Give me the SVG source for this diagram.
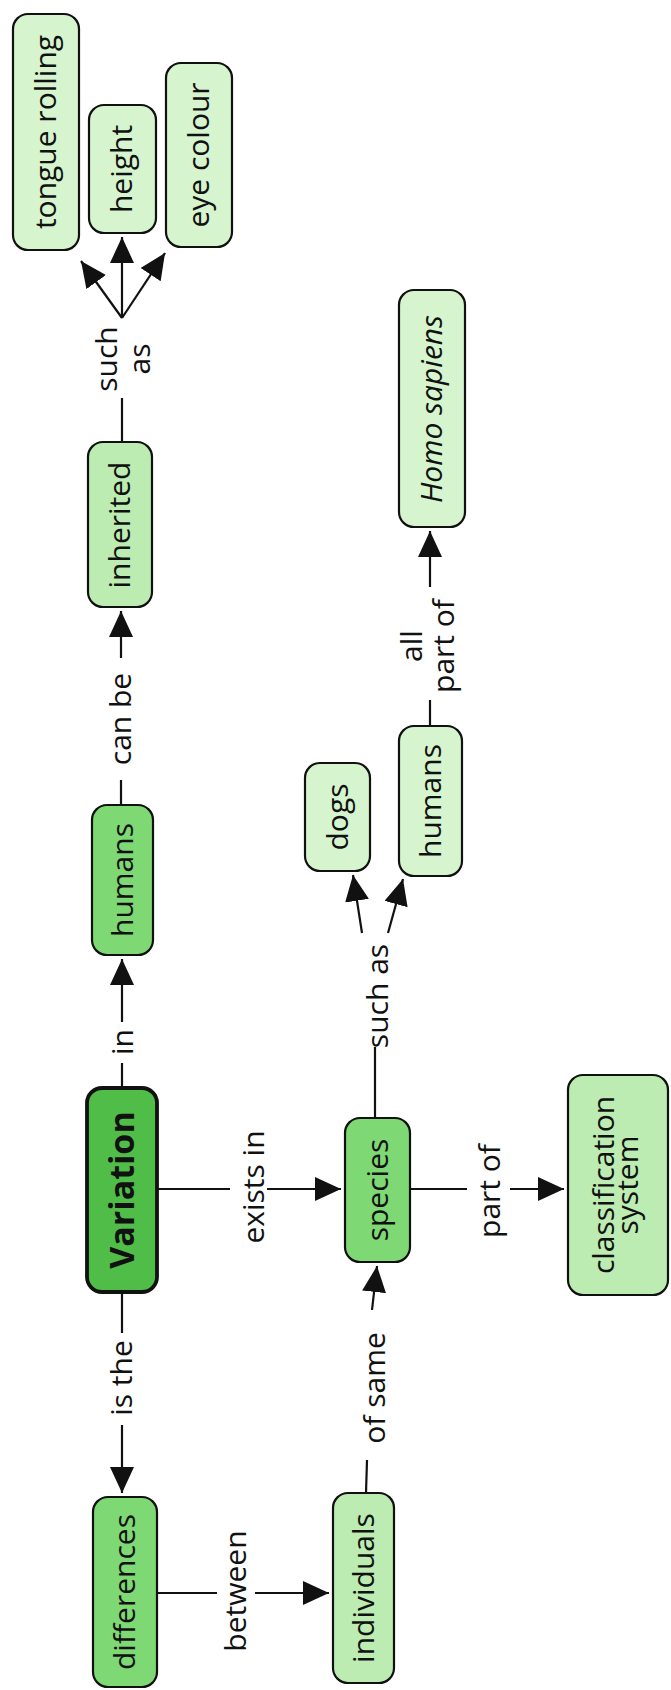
<svg xmlns="http://www.w3.org/2000/svg" width="671" height="1690" viewBox="0 0 671 1690">
<style>
.n rect{stroke:#111;stroke-width:2.2}
.light rect{fill:#d6f5cf}
.mid rect{fill:#bcecb2}
.med rect{fill:#7ed874}
.main rect{fill:#4fbd48;stroke-width:3.8}
text{font-family:"Open Sans","DejaVu Sans",sans-serif;font-size:30px;text-anchor:middle;fill:#111}
.b{font-weight:bold;font-size:34px}
.i{font-style:italic}
.c line{stroke:#111;stroke-width:2.2;fill:none}
.c line.a{marker-end:url(#ah)}
</style>
<defs>
<marker id="ah" markerUnits="userSpaceOnUse" markerWidth="27" markerHeight="25" refX="26" refY="12" orient="auto" viewBox="0 0 27 25">
<path d="M0,0 L26,12 L0,24 Z" fill="#111"/>
</marker>
</defs>
<rect x="0" y="0" width="671" height="1690" fill="#fff"/>
<g transform="translate(0,1690) rotate(-90)">
<g id="connectors" class="c">
<line x1="602" y1="122" x2="627" y2="122"/>
<line class="a" x1="668" y1="122" x2="731" y2="122"/>
<line x1="885" y1="121" x2="910" y2="121"/>
<line class="a" x1="1032" y1="121" x2="1079" y2="121"/>
<line x1="1248" y1="122" x2="1292" y2="122"/>
<line class="a" x1="1372" y1="122" x2="1453" y2="122"/>
<line class="a" x1="1372" y1="122" x2="1429" y2="81"/>
<line class="a" x1="1372" y1="122" x2="1437" y2="165"/>
<line x1="398" y1="122" x2="357" y2="122"/>
<line class="a" x1="265" y1="122" x2="197" y2="122"/>
<line x1="501" y1="157" x2="501" y2="230"/>
<line class="a" x1="501" y1="267" x2="501" y2="341"/>
<line x1="501" y1="410" x2="501" y2="467"/>
<line class="a" x1="501" y1="510" x2="501" y2="564"/>
<line x1="197" y1="366" x2="230" y2="367"/>
<line class="a" x1="380" y1="372" x2="424" y2="377"/>
<line x1="97" y1="157" x2="97" y2="217"/>
<line class="a" x1="97" y1="255" x2="97" y2="329"/>
<line x1="572" y1="375" x2="643" y2="375"/>
<line class="a" x1="757" y1="362" x2="815" y2="353"/>
<line class="a" x1="757" y1="388" x2="811" y2="403"/>
<line x1="964" y1="430" x2="990" y2="430"/>
<line class="a" x1="1103" y1="430" x2="1159" y2="430"/>
<text x="648" y="133">in</text>
<text x="971" y="131">can be</text>
<text x="1331" y="117">such</text>
<text x="1331" y="150">as</text>
<text x="312" y="132">is the</text>
<text x="503" y="264">exists in</text>
<text x="499" y="500">part of</text>
<text x="302" y="385">of same</text>
<text x="99" y="246">between</text>
<text x="694" y="388">such as</text>
<text x="1044" y="422">all</text>
<text x="1044" y="454">part of</text>
</g>
<g id="n-tongue" class="n light"><rect x="1440" y="13" width="236" height="66" rx="15"/><text x="1558" y="56">tongue rolling</text></g>
<g id="n-height" class="n light"><rect x="1457" y="89" width="128" height="67" rx="15"/><text x="1521" y="132">height</text></g>
<g id="n-eye" class="n light"><rect x="1443" y="166" width="184" height="66" rx="15"/><text x="1535" y="209">eye colour</text></g>
<g id="n-inherited" class="n mid"><rect x="1083" y="88" width="165" height="64" rx="15"/><text x="1165" y="130">inherited</text></g>
<g id="n-humans1" class="n med"><rect x="735" y="92" width="150" height="61" rx="15"/><text x="810" y="133">humans</text></g>
<g id="n-variation" class="n main"><rect x="398" y="87" width="204" height="70" rx="15"/><text class="b" x="500" y="134">Variation</text></g>
<g id="n-differences" class="n med"><rect x="3" y="93" width="190" height="64" rx="15"/><text x="98" y="135">differences</text></g>
<g id="n-individuals" class="n mid"><rect x="7" y="333" width="190" height="61" rx="15"/><text x="102" y="374">individuals</text></g>
<g id="n-species" class="n med"><rect x="428" y="345" width="144" height="65" rx="15"/><text x="500" y="388">species</text></g>
<g id="n-classification" class="n mid"><rect x="395" y="568" width="220" height="100" rx="15"/><text x="505" y="614">classification</text><text x="505" y="638">system</text></g>
<g id="n-dogs" class="n light"><rect x="819" y="305" width="108" height="65" rx="15"/><text x="873" y="348">dogs</text></g>
<g id="n-humans2" class="n light"><rect x="814" y="399" width="150" height="63" rx="15"/><text x="889" y="441">humans</text></g>
<g id="n-homo" class="n light"><rect x="1163" y="399" width="237" height="66" rx="15"/><text class="i" x="1281" y="442">Homo sapiens</text></g>
</g>
</svg>
